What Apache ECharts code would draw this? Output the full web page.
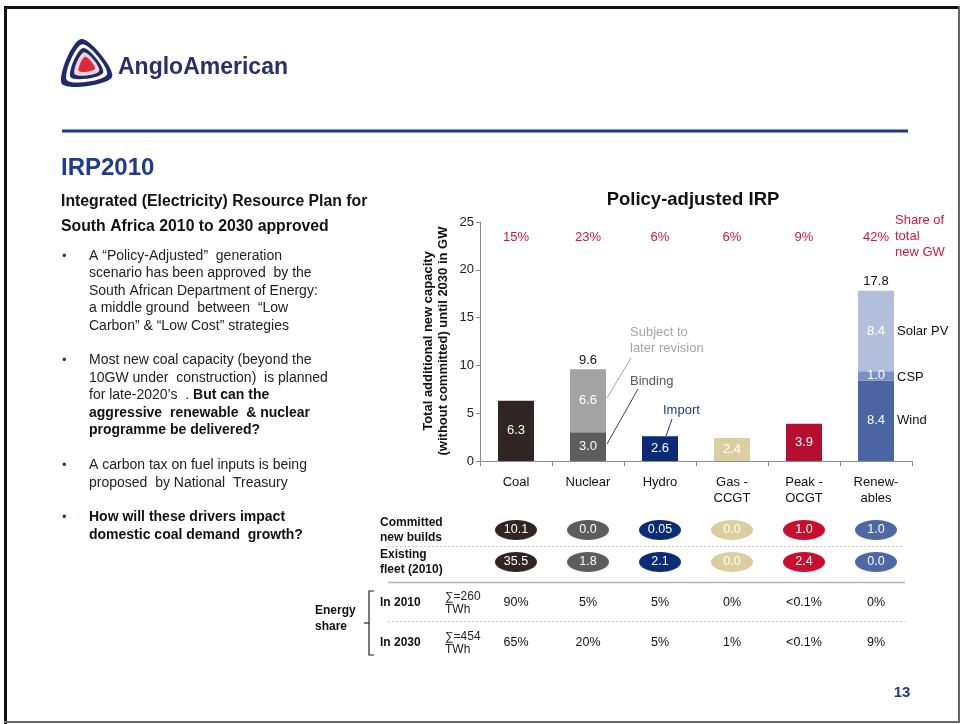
<!DOCTYPE html>
<html>
<head>
<meta charset="utf-8">
<script src="https://cdn.jsdelivr.net/npm/echarts@6/dist/echarts.min.js"></script>
<style>
html,body{margin:0;padding:0;background:#fff;}
#c{width:963px;height:724px;}
</style>
</head>
<body>
<div id="c"></div>
<script>
// Generation technologies on the category axis
const categories = ['Coal', 'Nuclear', 'Hydro', 'Gas -\nCCGT', 'Peak -\nOCGT', 'Renew-\nables'];
// New capacity until 2030 (GW), stacked: base segment, middle segment, top segment
const baseGW = [6.3, 3.0, 2.6, 2.4, 3.9, 8.4];        // coal, nuclear binding, hydro import, gas, peak, wind
const middleGW = [null, 6.6, null, null, null, 1.0];  // nuclear subject to revision, CSP
const topGW = [null, null, null, null, null, 8.4];    // solar PV
const totalGW = [null, 9.6, null, null, null, 17.8];
const shareOfNewGW = ['15%', '23%', '6%', '6%', '9%', '42%'];
// Table below the chart
const capacityRows = ['Committed\nnew builds', 'Existing\nfleet (2010)'];
const committedBuilds = ['10.1', '0.0', '0.05', '0.0', '1.0', '1.0'];
const existingFleet = ['35.5', '1.8', '2.1', '0.0', '2.4', '0.0'];
const energyRows = ['In 2010', 'In 2030'];
const energyTotals = ['\u2211=260\nTWh', '\u2211=454\nTWh'];
const energyShare2010 = ['90%', '5%', '5%', '0%', '<0.1%', '0%'];
const energyShare2030 = ['65%', '20%', '5%', '1%', '<0.1%', '9%'];
const yTicks = { min: 0, max: 25, interval: 5 };
const segmentNames = ['Wind', 'CSP', 'Solar PV'];

const FONT = '"Liberation Sans", Arial, Helvetica, sans-serif';
const NARROW = '"Liberation Sans Narrow", "Liberation Sans", Arial, sans-serif';
const baseColors = ['#2f2624', '#5d5d5d', '#0b2a78', '#dbcf9f', '#b40f2f', '#4a65a1'];
const middleColors = [null, '#a3a3a3', null, null, null, '#7c8fc2'];
const topColors = [null, null, null, null, null, '#b3bedb'];
const bubbleColors = ['#2f2624', '#5d5d5d', '#0b2a78', '#dbcf9f', '#c8102e', '#4d68a5'];
const RED = '#d6153a';
const NAVY = '#1c3a8a';

const chart = echarts.init(document.getElementById('c'), null, { renderer: 'canvas' });

const segLabel = {
  show: true, position: 'inside', color: '#fff', fontSize: 13, fontFamily: FONT,
  formatter: p => p.value == null ? '' : Number(p.value).toFixed(1)
};

function hiddenCat(grid) {
  return { type: 'category', gridIndex: grid, data: categories, show: false };
}

const option = {
  animation: false,
  backgroundColor: '#fff',
  grid: [
    { left: 480, top: 222, width: 432, height: 239 },
    { left: 480, top: 514, width: 432, height: 64 },
    { left: 480, top: 583, width: 432, height: 80 }
  ],
  xAxis: [
    {
      type: 'category', gridIndex: 0, data: categories,
      axisLine: { lineStyle: { color: '#8c8c8c', width: 1 } },
      axisTick: { show: true, length: 5, lineStyle: { color: '#8c8c8c' } },
      axisLabel: { color: '#111', fontSize: 13, fontFamily: FONT, margin: 13, lineHeight: 16 }
    },
    {
      type: 'category', gridIndex: 0, data: shareOfNewGW, position: 'top', offset: -24,
      axisLine: { show: false }, axisTick: { show: false },
      axisLabel: { color: RED, fontSize: 13, fontFamily: FONT, margin: 2 }
    },
    hiddenCat(1),
    hiddenCat(2)
  ],
  yAxis: [
    {
      type: 'value', gridIndex: 0, min: yTicks.min, max: yTicks.max, interval: yTicks.interval,
      axisLine: { show: true, lineStyle: { color: '#8c8c8c' } },
      axisTick: { show: true, length: 4, lineStyle: { color: '#8c8c8c' } },
      splitLine: { show: false },
      axisLabel: { color: '#222', fontSize: 13, fontFamily: FONT, margin: 6 }
    },
    {
      type: 'category', gridIndex: 1, data: capacityRows, inverse: true, position: 'left',
      axisLine: { show: false }, axisTick: { show: false },
      axisLabel: { align: 'left', margin: 100, color: '#111', fontSize: 12, fontWeight: 'bold', fontFamily: NARROW, lineHeight: 15 }
    },
    {
      type: 'category', gridIndex: 2, data: energyRows, inverse: true, position: 'left',
      axisLine: { show: false }, axisTick: { show: false },
      axisLabel: { align: 'left', margin: 100, color: '#111', fontSize: 12, fontWeight: 'bold', fontFamily: NARROW }
    },
    {
      type: 'category', gridIndex: 2, data: energyTotals, inverse: true, position: 'left', offset: 0,
      axisLine: { show: false }, axisTick: { show: false },
      axisLabel: { align: 'left', margin: 35, color: '#222', fontSize: 12, fontFamily: NARROW, lineHeight: 13, padding: [0, 0, 2, 0] }
    }
  ],
  series: [
    {
      type: 'bar', name: 'base', xAxisIndex: 0, yAxisIndex: 0, stack: 'gw', barWidth: '50%',
      data: baseGW.map((v, i) => ({ value: v, itemStyle: { color: baseColors[i] } })),
      label: segLabel
    },
    {
      type: 'bar', name: 'middle', xAxisIndex: 0, yAxisIndex: 0, stack: 'gw', barWidth: '50%',
      data: middleGW.map((v, i) => ({ value: v, itemStyle: { color: middleColors[i] || '#000' } })),
      label: segLabel
    },
    {
      type: 'bar', name: 'top', xAxisIndex: 0, yAxisIndex: 0, stack: 'gw', barWidth: '50%',
      data: topGW.map((v, i) => ({ value: v, itemStyle: { color: topColors[i] || '#000' } })),
      label: segLabel
    },
    {
      type: 'scatter', name: 'total', xAxisIndex: 0, yAxisIndex: 0, symbolSize: 1,
      itemStyle: { color: 'rgba(0,0,0,0)', opacity: 1 },
      data: totalGW.map((v, i) => v == null ? null : [i, v]).filter(d => d),
      label: { show: true, position: 'top', distance: 2, color: '#111', fontSize: 13, fontFamily: FONT,
        formatter: p => p.value[1].toFixed(1) }
    },
    {
      type: 'scatter', name: 'capacity', xAxisIndex: 2, yAxisIndex: 1, symbol: 'circle', symbolSize: [42, 20],
      data: committedBuilds.map((v, i) => ({ value: [i, 0, v], itemStyle: { color: bubbleColors[i], opacity: 1 } }))
        .concat(existingFleet.map((v, i) => ({ value: [i, 1, v], itemStyle: { color: bubbleColors[i], opacity: 1 } }))),
      itemStyle: { opacity: 1 },
      label: { show: true, position: 'inside', color: '#fff', fontSize: 12.5, fontFamily: NARROW,
        formatter: p => p.value[2] }
    },
    {
      type: 'scatter', name: 'energy', xAxisIndex: 3, yAxisIndex: 2, symbolSize: 1,
      itemStyle: { color: 'rgba(0,0,0,0)', opacity: 1 },
      data: energyShare2010.map((v, i) => [i, 0, v]).concat(energyShare2030.map((v, i) => [i, 1, v])),
      label: { show: true, position: 'inside', color: '#111', fontSize: 12.5, fontFamily: NARROW,
        formatter: p => p.value[2] }
    }
  ]
};
chart.setOption(option);

// Static slide elements: frame, logo, headings, bullet text, annotations
function txt(x, y, text, font, fill, align, extra) {
  return Object.assign({ type: 'text', x: x, y: y, silent: true,
    style: { text: text, font: font, fill: fill, align: align || 'left', verticalAlign: 'middle' } }, extra || {});
}
function rect(x, y, w, h, fill) {
  return { type: 'rect', silent: true, shape: { x: x, y: y, width: w, height: h }, style: { fill: fill } };
}
function line(x1, y1, x2, y2, stroke, width, dash) {
  return { type: 'line', silent: true, shape: { x1: x1, y1: y1, x2: x2, y2: y2 },
    style: { stroke: stroke, lineWidth: width || 1, lineDash: dash || null } };
}
function tri(cx, cy, s, fill) {
  const pts = [[-6, -26], [-25, 19], [25, 12]].map(p => [cx + p[0] * s, cy + p[1] * s]);
  return { type: 'polygon', silent: true, shape: { points: pts, smooth: 0.35 }, style: { fill: fill } };
}

const bodyFont = '14px ' + FONT;
const boldFont = 'bold 14px ' + FONT;
const els = [];

// frame
els.push(rect(4, 6, 956, 3, '#111'));
els.push(rect(4, 6, 3, 718, '#111'));
els.push(rect(958, 6, 2, 717, '#666'));
els.push(rect(4, 721, 956, 2, '#666'));

// logo
const lx = 87, ly = 65;
els.push(tri(lx, ly, 1.0, '#1f2a6b'));
els.push(tri(lx, ly, 0.80, '#ffffff'));
els.push(tri(lx, ly, 0.65, '#1f2a6b'));
els.push(tri(lx, ly, 0.49, '#f6d3d8'));
els.push(tri(lx, ly, 0.32, '#d92b3a'));
els.push(txt(118, 68, 'AngloAmerican', 'bold 23px ' + FONT, '#2a2e6c'));

// header rule
els.push(line(62, 131, 908, 131, NAVY, 3));

// headings
els.push(txt(61, 168, 'IRP2010', 'bold 24px ' + FONT, '#1e3c8c'));
els.push(txt(61, 202, 'Integrated (Electricity) Resource Plan for', 'bold 15.8px ' + FONT, '#111'));
els.push(txt(61, 227, 'South Africa 2010 to 2030 approved', 'bold 15.8px ' + FONT, '#111'));

// bullets
const bulletYs = [256, 360, 465, 517];
bulletYs.forEach(y => els.push(txt(62, y, '\u2022', '13px ' + FONT, NAVY)));
const b1 = ['A \u201CPolicy-Adjusted\u201D  generation', 'scenario has been approved  by the',
  'South African Department of Energy:', 'a middle ground  between  \u201CLow',
  'Carbon\u201D & \u201CLow Cost\u201D strategies'];
b1.forEach((t, i) => els.push(txt(89, 256 + i * 17.5, t, bodyFont, '#222')));
els.push(txt(89, 360, 'Most new coal capacity (beyond the', bodyFont, '#222'));
els.push(txt(89, 378, '10GW under  construction)  is planned', bodyFont, '#222'));
els.push({ type: 'text', x: 89, y: 395, silent: true, style: {
  text: '{n|for late-2020\u2019s  . }{b|But can the}', verticalAlign: 'middle',
  rich: { n: { font: bodyFont, fill: '#222' }, b: { font: boldFont, fill: '#111' } } } });
els.push(txt(89, 413, 'aggressive  renewable  & nuclear', boldFont, '#111'));
els.push(txt(89, 430, 'programme be delivered?', boldFont, '#111'));
els.push(txt(89, 465, 'A carbon tax on fuel inputs is being', bodyFont, '#222'));
els.push(txt(89, 483, 'proposed  by National  Treasury', bodyFont, '#222'));
els.push(txt(89, 517, 'How will these drivers impact', boldFont, '#111'));
els.push(txt(89, 535, 'domestic coal demand  growth?', boldFont, '#111'));

// chart title and axis name
els.push(txt(693, 200, 'Policy-adjusted IRP', 'bold 18.5px ' + FONT, '#111', 'center'));
els.push(txt(428, 341, 'Total additional new capacity', 'bold 13px ' + FONT, '#111', 'center', { rotation: Math.PI / 2 }));
els.push(txt(443, 341, '(without committed) until 2030 in GW', 'bold 13px ' + FONT, '#111', 'center', { rotation: Math.PI / 2 }));

// share note
els.push(txt(895, 220, 'Share of', '13px ' + FONT, RED));
els.push(txt(895, 236, 'total', '13px ' + FONT, RED));
els.push(txt(895, 252, 'new GW', '13px ' + FONT, RED));

// annotations
els.push(txt(630, 332, 'Subject to', '13px ' + FONT, '#a6a6a6'));
els.push(txt(630, 348, 'later revision', '13px ' + FONT, '#a6a6a6'));
els.push(line(631, 358, 607, 398, '#a6a6a6', 1));
els.push(txt(630, 381, 'Binding', '13px ' + FONT, '#555'));
els.push(line(638, 389, 607, 444, '#444', 1));
els.push(txt(663, 410, 'Import', '13px ' + FONT, NAVY));
els.push(line(672, 419, 666, 436, NAVY, 1));

// renewables segment names
const renIdx = 5;
const segMids = [baseGW[renIdx] / 2, baseGW[renIdx] + middleGW[renIdx] / 2,
  baseGW[renIdx] + middleGW[renIdx] + topGW[renIdx] / 2];
segmentNames.forEach((n, k) => {
  const p = chart.convertToPixel({ xAxisIndex: 0, yAxisIndex: 0 }, [renIdx, segMids[k]]);
  els.push(txt(897, p[1] + (k === 1 ? 2 : 0), n, '13px ' + FONT, '#111'));
});

// table separators and bracket
els.push(line(388, 546.5, 902, 546.5, '#c8c8c8', 1, [2, 2]));
els.push(line(388, 582.5, 905, 582.5, '#b5b5b5', 1.5));
els.push(line(388, 621.5, 905, 621.5, '#c8c8c8', 1, [2, 2]));
els.push({ type: 'polyline', silent: true, shape: { points: [[374, 591], [369, 591], [369, 655], [374, 655]] },
  style: { stroke: '#222', lineWidth: 1.2, fill: null } });
els.push(line(364, 623, 369, 623, '#222', 1.2));
els.push(txt(315, 611, 'Energy', 'bold 12px ' + NARROW, '#111'));
els.push(txt(315, 627, 'share', 'bold 12px ' + NARROW, '#111'));

// page number
els.push(txt(902, 693, '13', 'bold 15px ' + FONT, '#1e3c8c', 'center'));

chart.setOption({ graphic: { elements: els } });
</script>
</body>
</html>
